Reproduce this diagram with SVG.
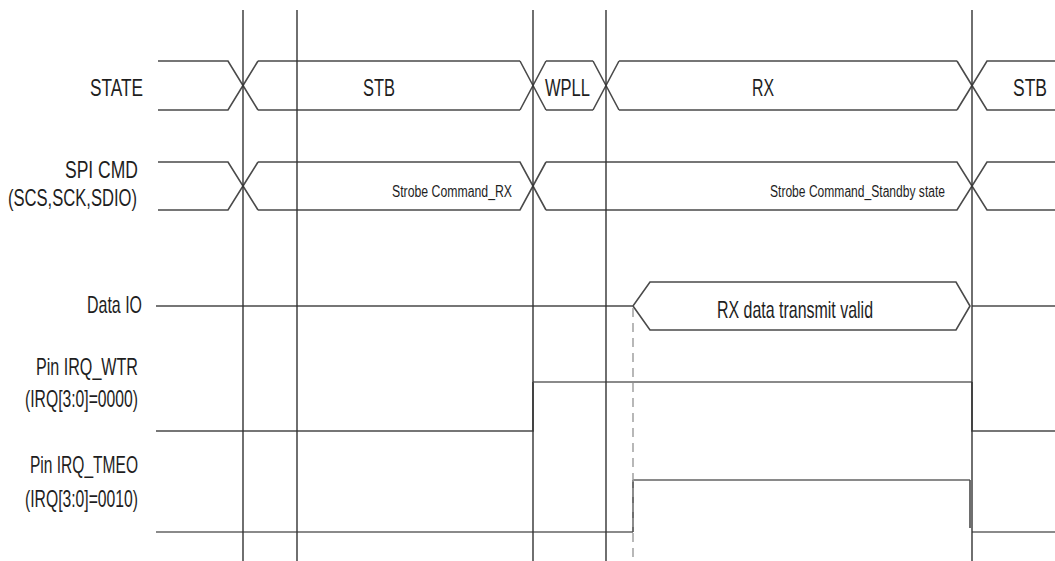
<svg xmlns="http://www.w3.org/2000/svg" width="1055" height="561" viewBox="0 0 1055 561">
<style>
.bg{fill:#ffffff}
.grid{stroke:#333333;stroke-width:1.4;fill:none}
.sig{stroke:#4a4a4a;stroke-width:1.6;fill:none;stroke-linejoin:miter}
.sigl{stroke:#8a8a8a;stroke-width:1.8;fill:none}
.dash{stroke:#9a9a9a;stroke-width:1.4;fill:none;stroke-dasharray:9 6}
.lbl{font-family:"Liberation Sans",Arial,sans-serif;font-size:24px;fill:#1e1e1e}
.sm{font-family:"Liberation Sans",Arial,sans-serif;font-size:16px;fill:#1e1e1e}
</style>
<rect class="bg" x="0" y="0" width="1055" height="561"/>

<g id="labels">
<text class="lbl" x="90" y="96" textLength="53" lengthAdjust="spacingAndGlyphs">STATE</text>
<text class="lbl" x="65" y="178" textLength="73" lengthAdjust="spacingAndGlyphs">SPI CMD</text>
<text class="lbl" x="8" y="206" textLength="129" lengthAdjust="spacingAndGlyphs">(SCS,SCK,SDIO)</text>
<text class="lbl" x="87" y="313" textLength="55" lengthAdjust="spacingAndGlyphs">Data IO</text>
<text class="lbl" x="36" y="375" textLength="102" lengthAdjust="spacingAndGlyphs">Pin IRQ_WTR</text>
<text class="lbl" x="25" y="407" textLength="113" lengthAdjust="spacingAndGlyphs">(IRQ[3:0]=0000)</text>
<text class="lbl" x="30" y="473" textLength="108" lengthAdjust="spacingAndGlyphs">Pin IRQ_TMEO</text>
<text class="lbl" x="25" y="507" textLength="113" lengthAdjust="spacingAndGlyphs">(IRQ[3:0]=0010)</text>
</g>

<g id="state">
<path class="sig" d="M158,61 H228 L243,85.5 L228,110 H158"/>
<path class="sig" d="M1055,61 H987 L972,85.5 L987,110 H1055"/>
<path class="sig" d="M520,61 L546,110 M520,110 L546,61"/>
<path class="sig" d="M593,61 L619,110 M593,110 L619,61"/>
<path class="sig" d="M957,61 L972,85.5 M957,110 L972,85.5"/>
<path class="sig" d="M258,61 H520 M258,110 H520 M243,85.5 L258,61 M243,85.5 L258,110"/>
<path class="sig" d="M546,61 H593 M546,110 H593"/>
<path class="sig" d="M619,61 H957 M619,110 H957"/>
<text class="lbl" x="363" y="96" textLength="32" lengthAdjust="spacingAndGlyphs">STB</text>
<text class="lbl" x="545" y="96" textLength="45" lengthAdjust="spacingAndGlyphs">WPLL</text>
<text class="lbl" x="752" y="96" textLength="22" lengthAdjust="spacingAndGlyphs">RX</text>
<text class="lbl" x="1013" y="96" textLength="34" lengthAdjust="spacingAndGlyphs">STB</text>
</g>

<g id="spi-cmd">
<path class="sig" d="M158,162 H228 L243,186 L228,210 H158"/>
<path class="sig" d="M258,162 H520 L546,210 M258,210 H520 L546,162 M243,186 L258,162 M243,186 L258,210"/>
<path class="sig" d="M546,162 H957 L987,210 H1055 M546,210 H957 L987,162 H1055"/>
<text class="sm" x="392" y="197" textLength="120" lengthAdjust="spacingAndGlyphs">Strobe Command_RX</text>
<text class="sm" x="770" y="197" textLength="175" lengthAdjust="spacingAndGlyphs">Strobe Command_Standby state</text>
</g>

<g id="data-io">
<path class="sig" d="M156,306 H633 L650,282 H956 L970,306 L956,330 H650 L633,306"/>
<path class="sig" d="M972,306 H1055"/>
<text class="lbl" x="717" y="318" textLength="156" lengthAdjust="spacingAndGlyphs">RX data transmit valid</text>
</g>

<g id="irq-wtr">
<path class="sig" d="M156,431 H533 V382"/>
<path class="sigl" d="M533,382 H972"/>
<path class="sig" d="M972,382 V431 H1055"/>
</g>

<g id="irq-tmeo">
<path class="sigl" d="M156,532 H633"/>
<path class="sig" d="M633,532 V480"/>
<path class="sigl" d="M633,480 H970"/>
<path class="sig" d="M970,480 V528"/>
<path class="sigl" d="M972,532 H1055"/>
</g>

<g id="connectors">
<line class="grid" x1="243" y1="10" x2="243" y2="561"/>
<line class="grid" x1="297" y1="10" x2="297" y2="561"/>
<line class="grid" x1="533" y1="10" x2="533" y2="561"/>
<line class="grid" x1="606" y1="10" x2="606" y2="561"/>
<line class="grid" x1="972" y1="10" x2="972" y2="561"/>
<line class="dash" x1="633" y1="308" x2="633" y2="561"/>
</g>
</svg>
